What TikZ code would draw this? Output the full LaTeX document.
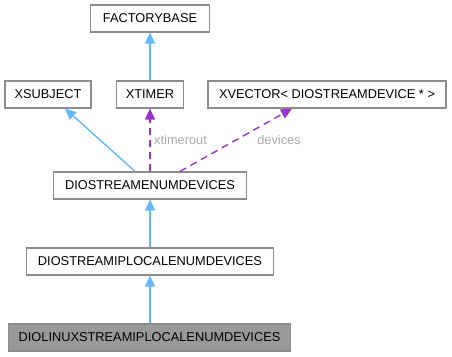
\documentclass[tikz,border=0pt]{standalone}
\usepackage{fontspec}
\setmainfont{Liberation Sans}
\usetikzlibrary{arrows.meta}
\definecolor{boxline}{HTML}{8C8C8C}
\definecolor{inherit}{HTML}{63B8FF}
\definecolor{usage}{HTML}{9A32CD}
\definecolor{lbl}{HTML}{ABABAB}
\definecolor{hilite}{HTML}{999999}
\tikzset{
  cls/.style={draw=boxline, line width=1.2pt, fill=white, minimum height=27pt,
    inner sep=0pt, font=\fontsize{12.8}{15}\selectfont},
  inh/.style={draw=inherit, line width=1.4pt, -{Triangle[length=11pt,width=10pt]}},
  use/.style={draw=usage, line width=1.4pt, dash pattern=on 7pt off 5pt,
    -{Triangle[length=11pt,width=10pt]}},
  straight/.style={line width=1.7pt},
  elbl/.style={text=lbl, font=\fontsize{12.8}{15}\selectfont, inner sep=0pt}
}
\begin{document}
\begin{tikzpicture}[x=1pt,y=-1pt]
\useasboundingbox (0,0) rectangle (452,356);
\node[cls, minimum width=119pt] (fb) at (150,18.5) {FACTORYBASE};
\node[cls, minimum width=86pt] (xs) at (48,94.5) {XSUBJECT};
\node[cls, minimum width=67pt] (xt) at (150,94.5) {XTIMER};
\node[cls, minimum width=238pt] (xv) at (327,94.5) {XVECTOR< DIOSTREAMDEVICE * >};
\node[cls, minimum width=193pt] (dse) at (150,185.5) {DIOSTREAMENUMDEVICES};
\node[cls, minimum width=247pt] (dsip) at (150,261.5) {DIOSTREAMIPLOCALENUMDEVICES};
\node[cls, minimum width=282pt, fill=hilite] (dl) at (149.5,337.5) {DIOLINUXSTREAMIPLOCALENUMDEVICES};

\draw[inh, straight] (xt.north) -- (fb.south);
\draw[inh] ([xshift=-15pt]dse.north) -- ([xshift=17pt]xs.south);
\draw[use, straight] (dse.north) -- (xt.south);
\draw[use] ([xshift=30pt]dse.north) -- ([xshift=-35pt]xv.south);
\draw[inh, straight] (dsip.north) -- (dse.south);
\draw[inh, straight] (dl.north -| dsip.north) -- (dsip.south);

\node[elbl, anchor=west] (lt) at (154,140) {xtimerout};
\node[elbl] (ld) at (279,140) {devices};
\end{tikzpicture}
\end{document}
